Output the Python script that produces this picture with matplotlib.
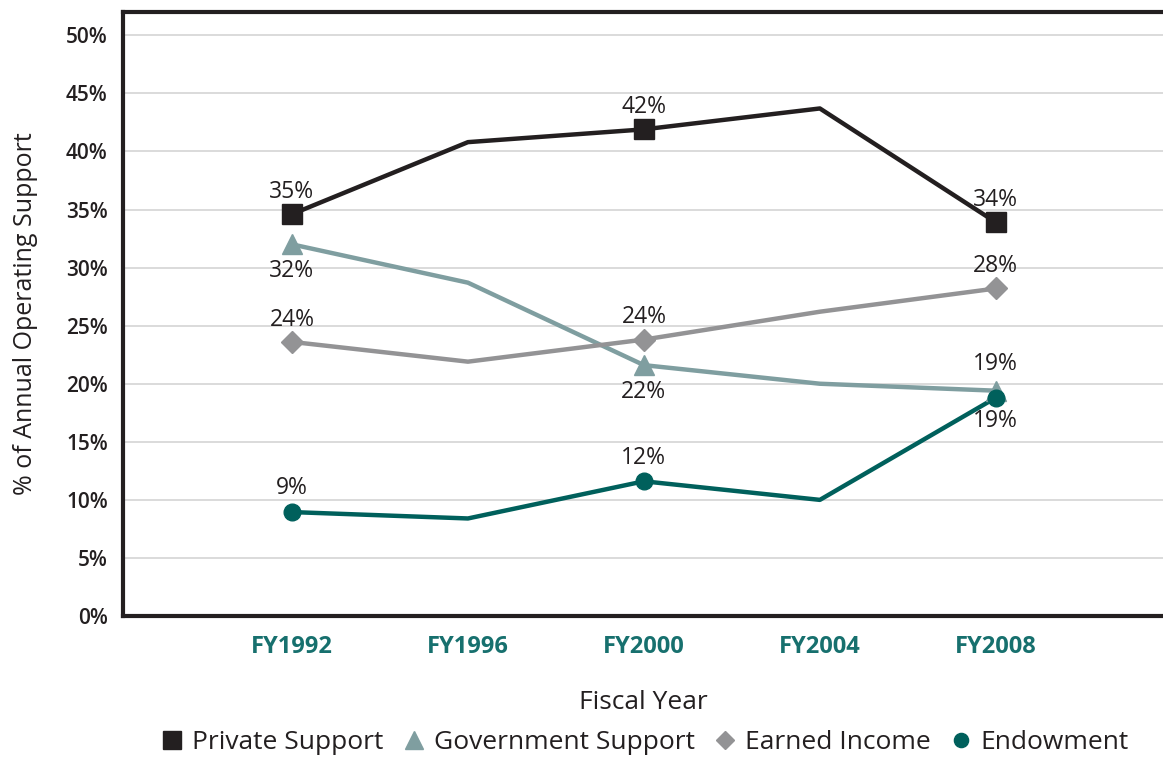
import matplotlib
matplotlib.use("Agg")
import matplotlib.pyplot as plt
from matplotlib.lines import Line2D

plt.rcParams['font.family'] = ['Open Sans', 'DejaVu Sans']

years = ["FY1992", "FY1996", "FY2000", "FY2004", "FY2008"]
private = [34.6, 40.8, 41.9, 43.7, 33.9]
government = [32.0, 28.7, 21.6, 20.0, 19.4]
earned = [23.6, 21.9, 23.8, 26.2, 28.2]
endowment = [8.95, 8.4, 11.6, 10.0, 18.8]

# which points carry a value label, and whether it sits above (+1) or below (-1)
private_lbl = {0: 1, 2: 1, 4: 1}
government_lbl = {0: -1, 2: -1, 4: 1}
earned_lbl = {0: 1, 2: 1, 4: 1}
endowment_lbl = {0: 1, 2: 1, 4: -1}

ink = "#231f20"
series = [
    ("Private Support", private, private_lbl, ink, "s", 15, 16),
    ("Government Support", government, government_lbl, "#7f9ea0", "^", 15, 19),
    ("Earned Income", earned, earned_lbl, "#939395", "D", 11, 16),
    ("Endowment", endowment, endowment_lbl, "#00605c", "o", 12, 17),
]

fig = plt.figure(figsize=(11.63, 7.58), dpi=100)
ax = fig.add_axes([0.1058, 0.1873, 0.8942, 0.7968])

x = list(range(len(years)))
for name, vals, lbls, color, mk, ms, off in series:
    ax.plot(x, vals, color=color, lw=3.2, zorder=3)
    ax.plot([x[i] for i in lbls], [vals[i] for i in lbls], ls="none",
            marker=mk, ms=ms, color=color, zorder=4)
    for i, side in lbls.items():
        ax.annotate(f"{vals[i]:.0f}%", (x[i], vals[i]), xytext=(0, off * side),
                    textcoords="offset points", ha="center", va="center",
                    fontsize=16.5, color=ink, zorder=5)

ax.set_xlim(-0.96, 4.95)
ax.set_ylim(0, 52)
ax.set_yticks(range(0, 51, 5))
ax.set_yticklabels([f"{v}%" for v in range(0, 51, 5)], fontsize=15,
                   fontweight="semibold", color=ink)
ax.set_xticks(x)
ax.set_xticklabels(years, fontsize=17, fontweight="bold", color="#17706e")
ax.tick_params(length=0)
ax.tick_params(axis="y", pad=11)
ax.tick_params(axis="x", pad=14)
ax.grid(axis="y", color="#d4d4d4", lw=1.2, zorder=0)

for side in ("left", "top", "bottom"):
    ax.spines[side].set_linewidth(3)
    ax.spines[side].set_color(ink)
ax.spines["right"].set_visible(False)

ax.set_xlabel("Fiscal Year", fontsize=19, color=ink, labelpad=22)
ax.set_ylabel("% of Annual Operating Support", fontsize=18, color=ink, labelpad=20)

handles = [Line2D([], [], ls="none", marker=mk, ms=ms * 0.85, color=color)
           for _, _, _, color, mk, ms, _ in series]
fig.legend(handles, [s[0] for s in series], loc="center", ncol=4,
           bbox_to_anchor=(0.555, 0.02), frameon=False, fontsize=19,
           handlelength=0.8, handletextpad=0.35, columnspacing=0.75,
           labelcolor=ink)

fig.savefig("out.png", dpi=100)
